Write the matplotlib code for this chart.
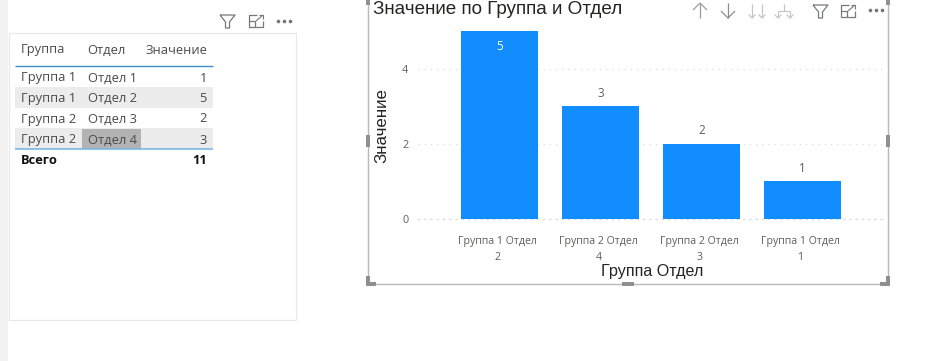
import matplotlib
matplotlib.use('Agg')

import matplotlib.pyplot as plt
from matplotlib.patches import Rectangle
from matplotlib.transforms import ScaledTranslation

W, H = 926, 361

# bar chart
bar_labels = ['Группа 1 Отдел\n2', 'Группа 2 Отдел\n4', 'Группа 2 Отдел\n3', 'Группа 1 Отдел\n1']
bar_values = [5, 3, 2, 1]
y_ticks = [0, 2, 4]

# table
col_headers = ['Группа', 'Отдел', 'Значение']
col_group = ['Группа 1', 'Группа 1', 'Группа 2', 'Группа 2']
col_dept = ['Отдел 1', 'Отдел 2', 'Отдел 3', 'Отдел 4']
col_value = [1, 5, 2, 3]
total_label = 'Всего'
total_value = 11

BLUE = '#118dff'
GREY_TEXT = '#605e5c'
FRAME = '#b8b8b8'
ICON = '#77787a'
ICON_OFF = '#c4c6c8'
TEXT_FONT = ['Open Sans', 'DejaVu Sans']
TITLE_FONT = ['Liberation Sans', 'DejaVu Sans']


def line(ax, xs, ys, color=ICON, lw=0.9, **kw):
    ax.plot(xs, ys, color=color, lw=lw, solid_capstyle='butt', **kw)


def filter_icon(ax, x, y):
    line(ax, [x, x + 15, x + 9.5, x + 9.5, x + 5.5, x + 5.5, x],
         [y, y, y + 7, y + 13, y + 13, y + 7, y])


def focus_icon(ax, x, y):
    line(ax, [x + 8, x, x, x + 14, x + 14], [y, y, y + 12, y + 12, y + 6])
    line(ax, [x, x + 6, x + 6], [y + 6, y + 6, y + 12])
    line(ax, [x + 7, x + 14], [y + 6, y], lw=0.8)
    line(ax, [x + 10, x + 14, x + 14], [y, y, y + 4], lw=0.8)


def dots_icon(ax, x, y):
    ax.plot([x, x + 6, x + 12], [y, y, y], ls='none', marker='o', ms=1.6, color=ICON)


def arrow_icon(ax, x, y0, y1, color, head=7):
    d = head if y1 > y0 else -head
    line(ax, [x, x], [y0, y1], color=color)
    line(ax, [x - head, x, x + head], [y1 - d, y1, y1 - d], color=color)


def handle(ax, x, y, w, h):
    ax.add_patch(Rectangle((x, y), w, h, facecolor='#8f8f8f', edgecolor='none', zorder=5))


fig = plt.figure(figsize=(W / 100, H / 100), dpi=100)
fig.patch.set_facecolor('white')

# overlay in pixel coordinates for the report chrome
bg = fig.add_axes([0, 0, 1, 1])
bg.set_xlim(0, W)
bg.set_ylim(H, 0)
bg.axis('off')

bg.add_patch(Rectangle((0, 0), 8, H, facecolor='#f3f2f1', edgecolor='none'))
bg.add_patch(Rectangle((9, 33), 287, 287, facecolor='white', edgecolor='#e8e8e8', lw=0.9))

# table
for y in (87, 128):
    bg.add_patch(Rectangle((15, y), 198, 20.5, facecolor='#ececec', edgecolor='none'))
bg.add_patch(Rectangle((82, 128.5), 59, 20, facecolor='#b3b3b3', edgecolor='none'))
line(bg, [15, 213], [66, 66], color='#3f8fcf', lw=1.0)
line(bg, [15, 213], [149, 149], color='#73b2e6', lw=1.1)

txt = dict(fontsize=9.3, family=TEXT_FONT, color='#4a4a4a', va='center')
bg.text(21, 50, col_headers[0], **txt)
bg.text(87.5, 50, col_headers[1], **txt)
bg.text(207, 50, col_headers[2], ha='right', **txt)
for i, y in enumerate((78, 98.5, 119, 140)):
    bg.text(21, y, col_group[i], **txt)
    bg.text(87.5, y, col_dept[i], **txt)
    bg.text(207, y, str(col_value[i]), ha='right', **txt)
bg.text(21, 161, total_label, fontsize=9.3, family=TEXT_FONT, color='#111111',
        va='center', fontweight='bold')
bg.text(207, 161, str(total_value), fontsize=9.3, family=TEXT_FONT, color='#111111',
        va='center', ha='right', fontweight='bold')

filter_icon(bg, 220, 15)
focus_icon(bg, 249, 15)
dots_icon(bg, 278, 21)

# selection frame of the chart
line(bg, [368, 368], [0, 284], color=FRAME, lw=1.0)
line(bg, [888, 888], [0, 284], color=FRAME, lw=1.0)
line(bg, [368, 888], [284, 284], color=FRAME, lw=1.0)
handle(bg, 366, 135, 4, 12)
handle(bg, 886, 135, 4, 12)
handle(bg, 886, 0, 4, 5)
handle(bg, 366, 0, 4, 5)
handle(bg, 622, 282, 12, 4)
handle(bg, 366, 282, 10, 4)
handle(bg, 366, 276, 4, 9)
handle(bg, 880, 282, 10, 4)
handle(bg, 886, 276, 4, 9)

bg.text(373, 9, 'Значение по Группа и Отдел', fontsize=13.6, family=TITLE_FONT,
        color='#252423', va='center')
bg.text(382, 125.5, 'Значение', fontsize=12.2, family=TITLE_FONT, color='#252423',
        rotation=90, va='center', ha='center')
bg.text(652, 271.5, 'Группа Отдел', fontsize=11.6, family=TITLE_FONT, color='#252423',
        va='center', ha='center')

arrow_icon(bg, 700, 18, 3, '#9a9c9e')
arrow_icon(bg, 728, 3, 18, '#8a8c8e')
for x in (752, 762):
    arrow_icon(bg, x, 4, 18, ICON_OFF, head=3.5)
line(bg, [784, 784], [4, 11], color=ICON_OFF)
line(bg, [778, 790], [11, 11], color=ICON_OFF)
arrow_icon(bg, 778, 11, 18, ICON_OFF, head=3.5)
arrow_icon(bg, 790, 11, 18, ICON_OFF, head=3.5)
filter_icon(bg, 813, 5)
focus_icon(bg, 841, 5)
dots_icon(bg, 870, 10)

# bar chart in data coordinates, laid over the chrome
ax = fig.add_axes([418 / W, (H - 219) / H, 467 / W, 199 / H])
ax.patch.set_alpha(0)
x = list(range(len(bar_values)))
ax.bar(x, bar_values, width=0.76, color=BLUE, zorder=3)
ax.set_xlim(-0.807, 3.817)
ax.set_ylim(0, 5.29)
ax.set_yticks(y_ticks)
ax.set_xticks(x)
ax.set_xticklabels(bar_labels, fontsize=7.6, family=TEXT_FONT, color=GREY_TEXT, linespacing=1.6)
ax.tick_params(axis='both', length=0)
ax.tick_params(axis='x', pad=12.5)
ax.tick_params(axis='y', pad=7, labelsize=7.8, labelcolor=GREY_TEXT)
shift = ScaledTranslation(-2 / 100, 0, fig.dpi_scale_trans)
for lab in ax.get_xticklabels():
    lab.set_transform(lab.get_transform() + shift)
for lab in ax.get_yticklabels():
    lab.set_family(TEXT_FONT)
ax.grid(axis='y', color='#dcdcdc', lw=0.9, ls=(0, (1, 4)), zorder=0)
ax.set_axisbelow(True)
for s in ax.spines.values():
    s.set_visible(False)
ax.spines['bottom'].set_visible(True)
ax.spines['bottom'].set_color('#dcdcdc')
ax.spines['bottom'].set_linewidth(0.9)
ax.spines['bottom'].set_linestyle((0, (1, 4)))

for i, v in enumerate(bar_values):
    if v == max(bar_values):
        ax.annotate(str(v), (i, v), xytext=(0, -16), textcoords='offset pixels', ha='center',
                    va='center', fontsize=8.4, family=TEXT_FONT, color='white')
    else:
        ax.annotate(str(v), (i, v), xytext=(0, 13), textcoords='offset pixels', ha='center',
                    va='center', fontsize=8.4, family=TEXT_FONT, color=GREY_TEXT)

fig.savefig('out.png', dpi=100)
plt.close()
